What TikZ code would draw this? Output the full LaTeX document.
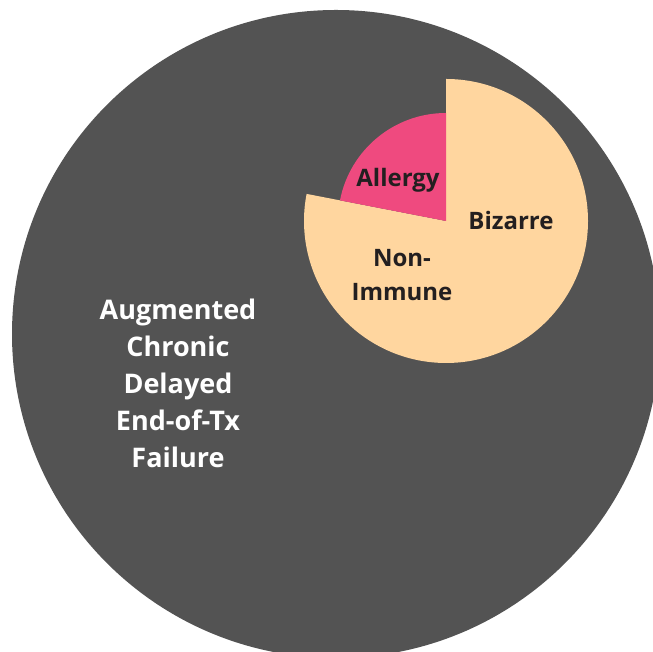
\documentclass[tikz,border=0pt]{standalone}
\usepackage{fontspec}
\setmainfont{Open Sans}
\usetikzlibrary{positioning}
\definecolor{slate}{HTML}{535353}
\definecolor{peach}{HTML}{FFD69F}
\definecolor{rose}{HTML}{EF4A7F}
\definecolor{ink}{HTML}{231F20}

\begin{document}
\begin{tikzpicture}[x=1pt, y=1pt,
    lbl/.style={font=\bfseries\fontsize{24}{34}\selectfont, align=center, text=ink},
    biglbl/.style={lbl, font=\bfseries\fontsize{27}{37}\selectfont, text=white}]
  \useasboundingbox (0,0) rectangle (653,652);
  \clip (0,0) rectangle (653,652);
  % outer disc
  \fill[slate] (336,318) circle (324);
  % inner pie
  \coordinate (c) at (446,431);
  \fill[peach] (c) -- ++(90:142) arc[start angle=90, end angle=-191, radius=142] -- cycle;
  \fill[rose] (c) -- ++(90:108) arc[start angle=90, end angle=169, radius=108] -- cycle;
  % labels
  \node[biglbl] (failure) at (178,269) {Augmented\\Chronic\\Delayed\\End-of-Tx\\Failure};
  \node[lbl] (allergy) at (398,472) {Allergy};
  \node[lbl] (bizarre) at (511,431) {Bizarre};
  \node[lbl] (nonimmune) at (402,377) {Non-\\Immune};
\end{tikzpicture}
\end{document}
